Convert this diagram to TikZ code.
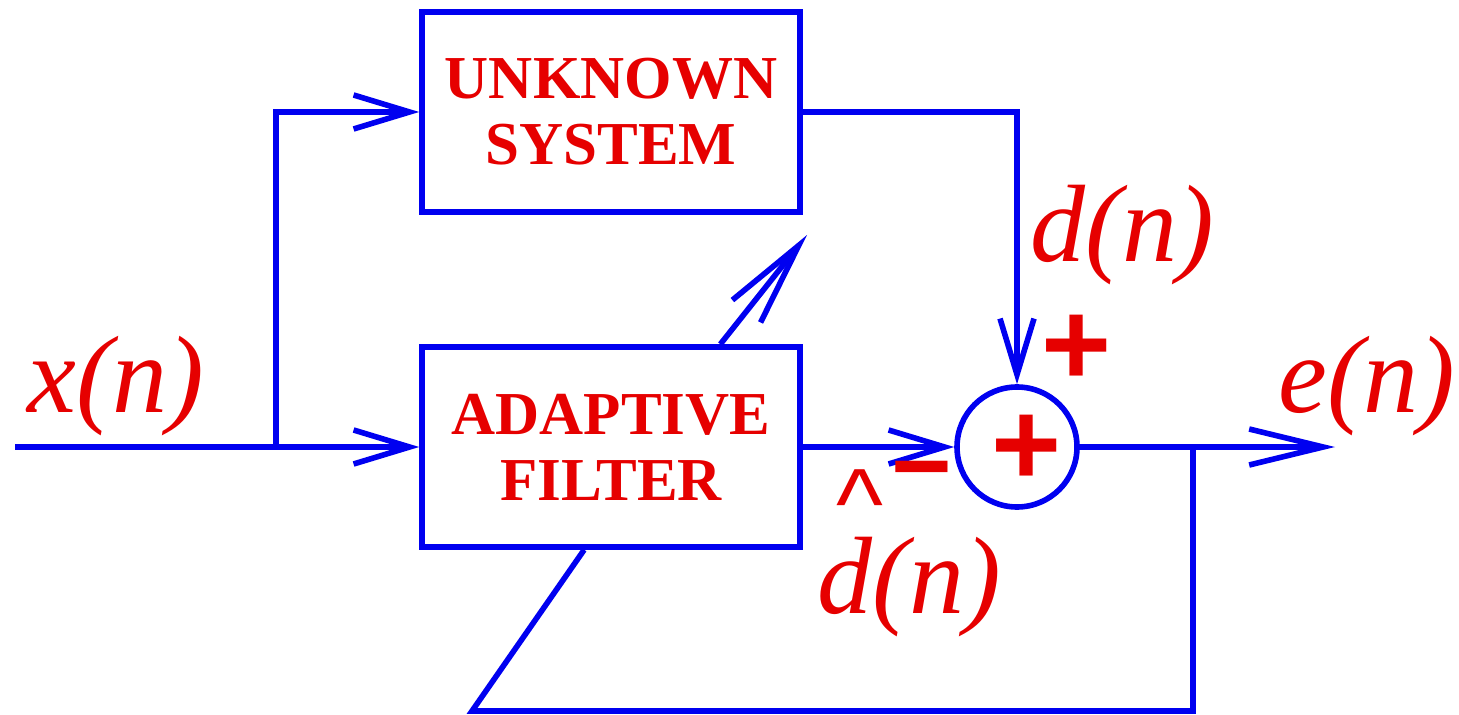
\documentclass[tikz,border=0pt]{standalone}
\usepackage{fontspec}
\setmainfont{Liberation Serif}
\newfontfamily\signfont{Liberation Sans}
\usetikzlibrary{arrows.meta,calc}
\definecolor{wire}{HTML}{0000F0}
\definecolor{label}{HTML}{E60000}

\begin{document}
\begin{tikzpicture}[x=0.5pt,y=-0.5pt,
  block/.style={draw=wire, line width=2.8pt, minimum width=189pt, minimum height=100pt,
    inner sep=0pt, align=center, text=label, font=\bfseries\fontsize{30.5}{33}\selectfont},
  sumnode/.style={draw=wire, circle, line width=2.8pt, minimum size=60pt, inner sep=0pt},
  sig/.style={draw=wire, line width=2.8pt, line join=miter},
  sigtip/.style={-{Straight Barb[length=28pt,width=17pt]}},
  longtip/.style={-{Straight Barb[length=37pt,width=18pt]}},
  tunetip/.style={-{Straight Barb[length=42pt,width=18pt]}},
  lab/.style={text=label, font=\itshape\fontsize{55}{55}\selectfont, inner sep=0pt, anchor=base west},
  sign/.style={text=label, font=\signfont\bfseries\fontsize{60}{60}\selectfont, inner sep=0pt}]
\useasboundingbox (0,0) rectangle (1459,715);

% --- blocks ---
\node[block] (unknown) at (611,112) {UNKNOWN\\SYSTEM};
\node[block] (adaptive) at (611,447) {ADAPTIVE\\FILTER};
\node[sumnode] (sum) at (1017,447) {};
\node[sign] (plussum) at (1027,450) {+};

% --- signal points ---
\coordinate (xin) at (15,447);
\coordinate (split) at (276,447);
\coordinate (eout) at (1335,447);
\coordinate (tap) at (1193,447);
\coordinate (loopR) at (1193,711);
\coordinate (loopL) at (472,711);
\coordinate (tune) at (807,235);

% --- connections ---
\draw[sig, sigtip] (xin) -- (adaptive.west);
\draw[sig, sigtip] (split) |- (unknown.west);
\draw[sig, sigtip] (unknown.east) -| (sum.north);
\draw[sig, sigtip] (adaptive.east) -- (sum.west);
\draw[sig, longtip] (sum.east) -- (eout);
\draw[sig] (tap) -- (loopR) -- (loopL) -- ($(adaptive.south west)!0.43!(adaptive.south east)$);
\draw[sig, tunetip] ($(adaptive.north west)!0.785!(adaptive.north east)$) -- (tune);

% --- labels ---
\node[lab] (xlab) at (27,413) {x(n)};
\node[lab] (dlab) at (1030,262) {d(n)};
\node[lab] (elab) at (1278,413) {e(n)};
\node[lab] (dhatlab) at (817,613) {d(n)};
\node[sign, font=\signfont\fontsize{50}{50}\selectfont] (caret) at (860,504) {\textasciicircum};
\node[sign] (plusd) at (1077,350) {+};
\node[sign, font=\signfont\bfseries\fontsize{52}{52}\selectfont] (minus) at (922,481) {\symbol{"2212}};
\end{tikzpicture}
\end{document}
